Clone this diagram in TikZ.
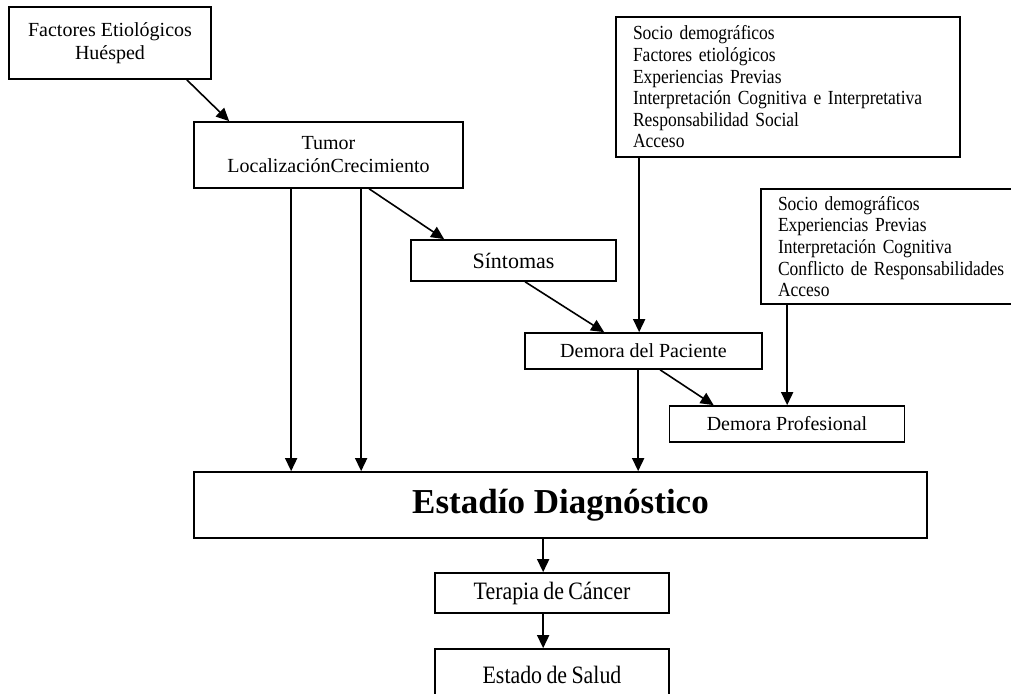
\documentclass[tikz,border=0pt]{standalone}
\usepackage{fontspec}
\setmainfont{Liberation Serif}
\newfontfamily\estrecha[FakeStretch=0.875, WordSpace=0.8]{Liberation Serif}
\usetikzlibrary{arrows.meta}

\begin{document}
\begin{tikzpicture}[x=1pt, y=-1pt, line width=1.7pt]
  \tikzstyle{every node} = [draw, inner sep=0pt, align=center]
  \tikzstyle{caja} = [font=\fontsize{20}{23}\selectfont]
  \tikzstyle{cajag} = [font=\estrecha\fontsize{25}{28}\selectfont]
  \tikzstyle{lista} = [font=\estrecha\fontsize{20}{21.6}\selectfont, align=left]
  \tikzstyle{flecha} = [-{Triangle[length=13pt,width=12pt]}, line width=1.6pt]
\useasboundingbox (0,0) rectangle (1011,693);

\node[caja, minimum width=202pt, minimum height=72pt] (fac) at (110,43) {Factores Etiológicos\\Huésped};
\node[caja, minimum width=269pt, minimum height=66pt] (tum) at (328.5,155) {Tumor\\LocalizaciónCrecimiento};
\node[font=\fontsize{22}{26}\selectfont, minimum width=205pt, minimum height=41pt] (sin) at (513.5,260.5) {Síntomas};
\node[lista, text width=310pt, inner xsep=17pt, minimum height=140pt] (soc1) at (788,87)
  {Socio demográficos\\Factores etiológicos\\Experiencias Previas\\Interpretación Cognitiva e Interpretativa\\Responsabilidad Social\\Acceso};
\node[caja, minimum width=237pt, minimum height=36pt] (pac) at (643.5,351) {Demora del Paciente};
\node[lista, text width=250pt, inner xsep=17pt, minimum height=115pt] (soc2) at (903,246.5)
  {Socio demográficos\\Experiencias Previas\\Interpretación Cognitiva\\Conflicto de Responsabilidades\\Acceso};
\node[caja, minimum width=235pt, minimum height=36pt] (pro) at (787,424) {Demora Profesional};
\node[font=\fontsize{35}{40}\selectfont\bfseries, minimum width=733pt, minimum height=66pt] (est) at (560.5,505) {Estadío Diagnóstico};
\node[cajag, minimum width=234pt, minimum height=40pt] (ter) at (552,593) {Terapia de Cáncer};
\node[cajag, minimum width=234pt, minimum height=52pt] (sal) at (552,675) {Estado de Salud};

\coordinate (t1) at ([xshift=98pt]tum.south west);
\coordinate (t2) at ([xshift=168pt]tum.south west);
\coordinate (s1) at ([xshift=24pt]soc1.south west);
\coordinate (p1) at ([xshift=114pt]pac.south west);
\coordinate (s2) at ([xshift=27pt]soc2.south west);
\coordinate (e1) at ([xshift=109pt]ter.north west);

\draw[flecha] ([xshift=-25pt]fac.south east) -- ([xshift=36pt]tum.north west);
\draw[flecha] (t1) -- (t1 |- est.north);
\draw[flecha] (t2) -- (t2 |- est.north);
\draw[flecha] ([xshift=176pt]tum.south west) -- ([xshift=34pt]sin.north west);
\draw[flecha] ([xshift=115pt]sin.south west) -- ([xshift=80pt]pac.north west);
\draw[flecha] (s1) -- (s1 |- pac.north);
\draw[flecha] (p1) -- (p1 |- est.north);
\draw[flecha] ([xshift=136pt]pac.south west) -- ([xshift=45pt]pro.north west);
\draw[flecha] (s2) -- (s2 |- pro.north);
\draw[flecha] (e1 |- est.south) -- (e1);
\draw[flecha] (e1 |- ter.south) -- (e1 |- sal.north);

\end{tikzpicture}
\end{document}
